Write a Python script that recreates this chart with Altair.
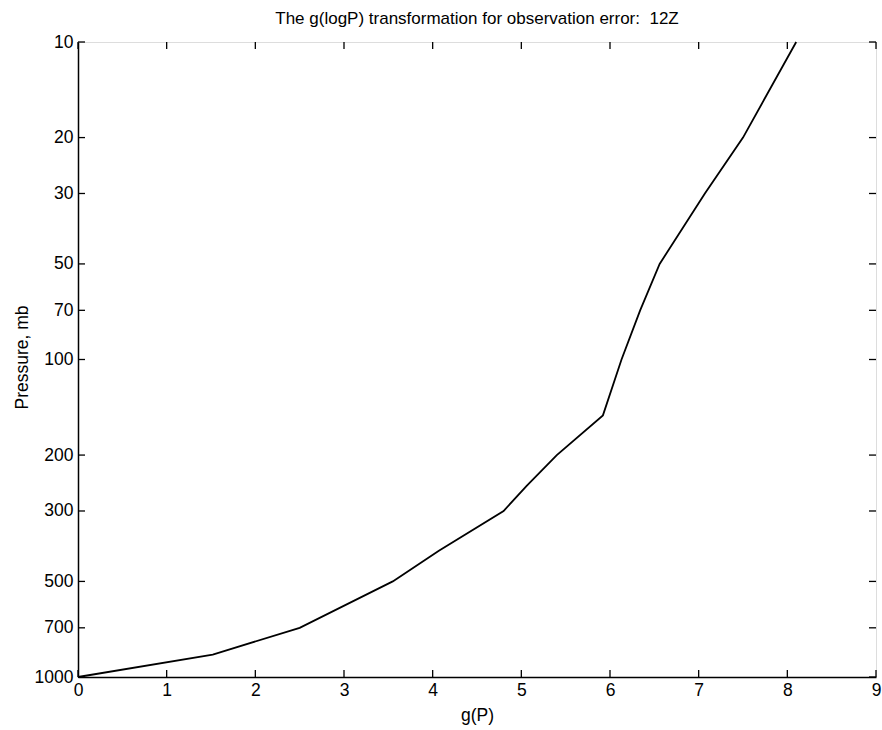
import altair as alt
import pandas as pd

# Curve values
pressure = [1000, 850, 700, 500, 400, 300, 250, 200, 150, 100, 70, 50, 30, 20, 10]
g_values = [0.0, 1.52, 2.50, 3.55, 4.07, 4.80, 5.06, 5.40, 5.92, 6.13, 6.34, 6.56, 7.07, 7.50, 8.10]

x_ticks = [0, 1, 2, 3, 4, 5, 6, 7, 8, 9]
y_ticks = [10, 20, 30, 50, 70, 100, 200, 300, 500, 700, 1000]

title_text = "The g(logP) transformation for observation error:\u00a0\u00a012Z"

W, H = 798, 635
TICK = 7
FONT = "Liberation Sans"
LABEL_SIZE = 17.5

curve = pd.DataFrame({"g": g_values, "pressure": pressure})
xt = pd.DataFrame({"g": x_ticks})
yt = pd.DataFrame({"pressure": y_ticks})

x_scale = alt.Scale(domain=[0, 9], nice=False, zero=False)
y_scale = alt.Scale(type="log", domain=[10, 1000], nice=False, reverse=True)

x_axis = alt.Axis(
    title="g(P)", values=x_ticks, format="d", tickSize=0, labelPadding=4,
    labelFontSize=LABEL_SIZE, labelFont=FONT, labelColor="black",
    titleFontSize=LABEL_SIZE, titleFont=FONT, titleFontWeight="normal", titleColor="black",
    titleY=38, titleBaseline="middle",
    domainColor="black", domainWidth=1.5, grid=False,
    labelOverlap=False, labelFlush=False, labelBound=False,
)
y_axis = alt.Axis(
    title="Pressure, mb", values=y_ticks, format="d", tickSize=0, labelPadding=5,
    labelFontSize=LABEL_SIZE, labelFont=FONT, labelColor="black",
    titleFontSize=LABEL_SIZE, titleFont=FONT, titleFontWeight="normal", titleColor="black",
    titleX=-56, titleY=315, titleAngle=270, titleAlign="center", titleBaseline="middle",
    domainColor="black", domainWidth=1.5, grid=False,
    labelOverlap=False, labelFlush=False, labelBound=False,
)

line = alt.Chart(curve).mark_line(color="black", strokeWidth=1.8).encode(
    x=alt.X("g:Q", scale=x_scale, axis=x_axis),
    y=alt.Y("pressure:Q", scale=y_scale, axis=y_axis),
    order="g:Q",
)

xb = alt.Chart(xt).mark_rule(color="black", strokeWidth=1.3).encode(
    x=alt.X("g:Q", scale=x_scale, axis=x_axis),
    y=alt.value(H), y2=alt.value(H - TICK),
)
xtop = alt.Chart(xt).mark_rule(color="black", strokeWidth=1.3).encode(
    x=alt.X("g:Q", scale=x_scale, axis=x_axis),
    y=alt.value(0), y2=alt.value(TICK),
)
yl = alt.Chart(yt).mark_rule(color="black", strokeWidth=1.3).encode(
    y=alt.Y("pressure:Q", scale=y_scale, axis=y_axis),
    x=alt.value(0), x2=alt.value(TICK),
)
yr = alt.Chart(yt).mark_rule(color="black", strokeWidth=1.3).encode(
    y=alt.Y("pressure:Q", scale=y_scale, axis=y_axis),
    x=alt.value(W - TICK), x2=alt.value(W),
)

chart = alt.layer(line, xb, xtop, yl, yr).properties(
    width=W,
    height=H,
    autosize="none",
    padding={"left": 78, "top": 42, "right": 6, "bottom": 53},
    title=alt.TitleParams(
        title_text,
        fontSize=17, font=FONT, fontWeight="normal", color="black",
        anchor="middle", offset=5,
    ),
).configure_view(stroke="black", strokeWidth=1.5).configure(background="white")

chart.save("out.html", embed_options={"renderer": "svg", "actions": False})
